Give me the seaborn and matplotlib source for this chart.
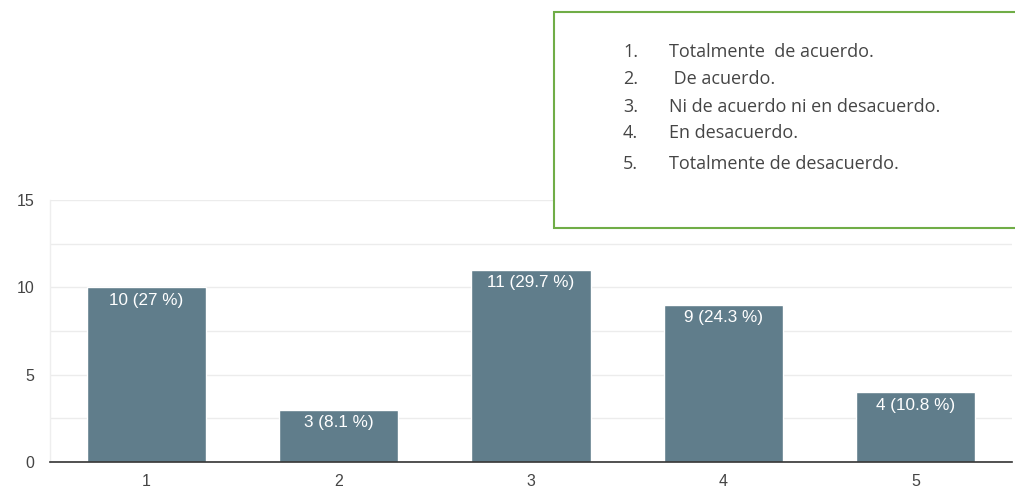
import matplotlib
matplotlib.use("Agg")
import matplotlib.pyplot as plt
import seaborn as sns
import pandas as pd
from matplotlib.patches import Rectangle
from matplotlib.ticker import MultipleLocator

categories = ["1", "2", "3", "4", "5"]
counts = [10, 3, 11, 9, 4]
percents = ["27", "8.1", "29.7", "24.3", "10.8"]
legend_nums = ["1.", "2.", "3.", "4.", "5."]
legend_texts = ["Totalmente  de acuerdo.", " De acuerdo.", "Ni de acuerdo ni en desacuerdo.",
                "En desacuerdo.", "Totalmente de desacuerdo."]

sns.set_theme(style="white")
plt.rcParams["font.family"] = ["Liberation Sans", "DejaVu Sans"]

df = pd.DataFrame({"cat": categories, "n": counts})

fig = plt.figure(figsize=(10.15, 4.91), dpi=100)
ax = fig.add_axes([50 / 1015, 29 / 491, 962 / 1015, 262 / 491])

sns.barplot(data=df, x="cat", y="n", color="#607D8B", saturation=1, width=0.62, ax=ax, zorder=3)

ax.set_xlim(-0.5, 4.5)
ax.set_ylim(0, 15)
ax.yaxis.set_major_locator(MultipleLocator(5))
ax.yaxis.set_minor_locator(MultipleLocator(2.5))
ax.grid(True, which="both", axis="y", color="#ececec", linewidth=1, zorder=0)
ax.set_axisbelow(True)
ax.set_xlabel("")
ax.set_ylabel("")

for side in ["top", "right"]:
    ax.spines[side].set_visible(False)
ax.spines["left"].set_color("#eeeeee")
ax.spines["left"].set_linewidth(1)
ax.spines["bottom"].set_color("#333333")
ax.spines["bottom"].set_linewidth(1.2)
ax.spines["bottom"].set_zorder(5)

ax.tick_params(axis="y", which="both", length=0, pad=11, labelsize=11.5, labelcolor="#444444")
ax.tick_params(axis="x", length=0, pad=9, labelsize=11.5, labelcolor="#444444")

for i, (c, p) in enumerate(zip(counts, percents)):
    ax.annotate(f"{c} ({p} %)", xy=(i, c), xytext=(0, -4), textcoords="offset points",
                ha="center", va="top", color="white", fontsize=12.3, zorder=6)

# Legend box (figure-level)
box = Rectangle((554 / 1015, (491 - 228) / 491), 1.02 - 554 / 1015, (228 - 12) / 491,
                transform=fig.transFigure, facecolor="white", edgecolor="#70AD47",
                linewidth=1.5, zorder=10)
fig.patches.append(box)

ys = [52, 79, 107, 133, 164]
for num, txt, y in zip(legend_nums, legend_texts, ys):
    fig.text(623 / 1015, 1 - y / 491, num, ha="left", va="center", fontsize=13,
             color="#454545", family=["Open Sans", "DejaVu Sans"], zorder=11)
    fig.text(669 / 1015, 1 - y / 491, txt, ha="left", va="center", fontsize=13,
             color="#454545", family=["Open Sans", "DejaVu Sans"], zorder=11)

fig.savefig("out.png", dpi=100)
